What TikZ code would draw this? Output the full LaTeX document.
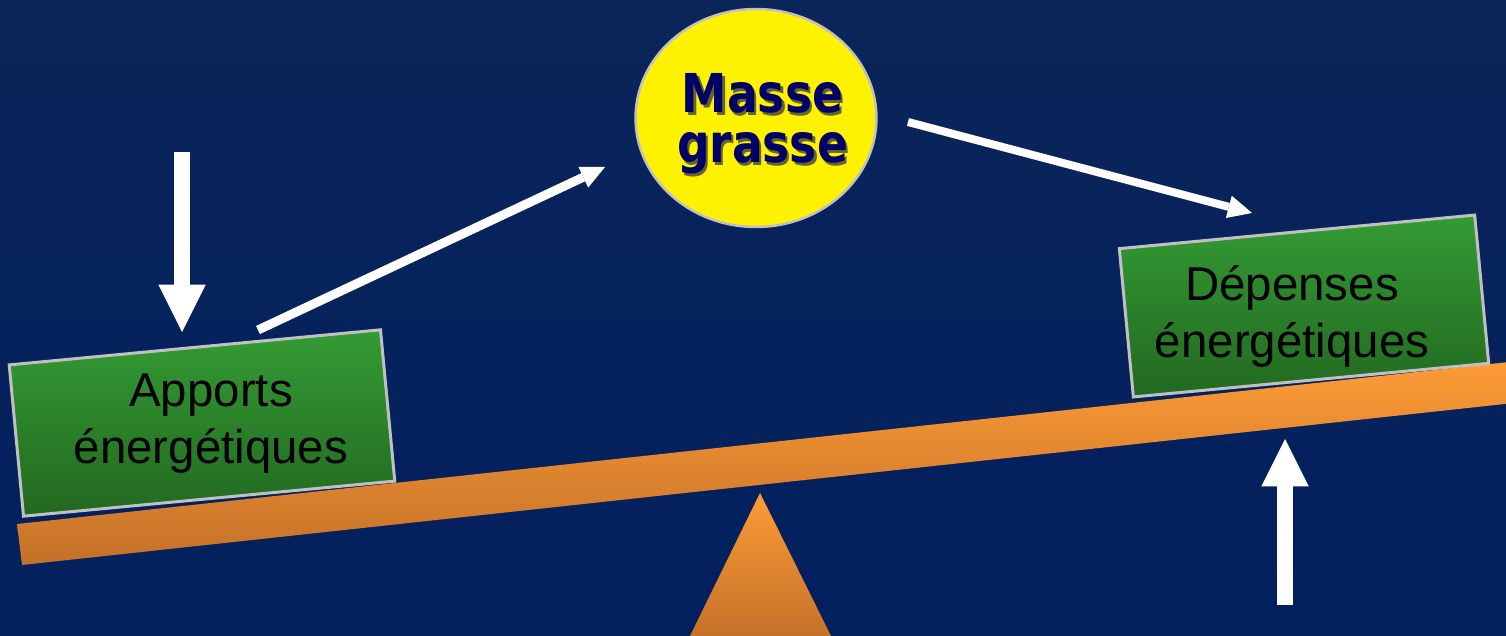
\documentclass[tikz,border=0pt]{standalone}
\usepackage{fontspec}
\setmainfont{Liberation Sans}
\newfontfamily\massefont[FakeStretch=0.85]{DejaVu Sans}
\usetikzlibrary{arrows.meta,shapes.geometric}
\definecolor{bgtop}{RGB}{11,37,89}
\definecolor{bgbot}{RGB}{2,32,94}
\definecolor{ortop}{RGB}{253,155,54}
\definecolor{orbot}{RGB}{195,113,41}
\definecolor{grtop}{RGB}{52,155,52}
\definecolor{grbot}{RGB}{34,104,32}
\definecolor{boxline}{RGB}{192,192,192}
\definecolor{massetext}{RGB}{0,0,102}
\definecolor{masseshadow}{RGB}{100,100,50}
\newcommand{\shadowtext}[1]{\makebox[0pt][l]{\hspace{1.2pt}\raisebox{-1.3pt}{\textcolor{masseshadow}{#1}}}#1}
\begin{document}
\begin{tikzpicture}[x=0.02cm,y=-0.02cm,
  greenbox/.style={draw=boxline, line width=1.7pt, top color=grtop, bottom color=grbot, inner sep=0pt, rotate=5.4},
  lbl/.style={font=\fontsize{27}{32}\selectfont, text=black, inner sep=0pt, anchor=base},
  massestyle/.style={font=\massefont\bfseries\fontsize{30.5}{28.4}\selectfont, text=massetext, inner sep=0pt, align=center},
  bigarrow/.style={draw=white, line width=0.32cm, -{Triangle[length=0.95cm,width=0.95cm,line width=0pt]}},
  thinarrow/.style={draw=white, line width=#1, -{Triangle[length=0.48cm,width=0.46cm,line width=0pt]}}
]
\useasboundingbox (0,0) rectangle (1506,635);
\clip (0,0) rectangle (1506,635);
% background
\shade[top color=bgtop, bottom color=bgbot] (0,0) rectangle (1506,635);
% beam and pivot
\shade[top color=ortop, bottom color=orbot] (17,524) -- (1520,360.8) -- (1520,402.3) -- (22,565) -- cycle;
\shade[top color=ortop, bottom color=orbot] (760,493) -- (833,640) -- (688,640) -- cycle;
% boxes
\node[greenbox, minimum width=7.46cm, minimum height=3.04cm] (apports) at (202,423) {};
\node[greenbox, minimum width=7.14cm, minimum height=2.98cm] (depenses) at (1304,306) {};
\node[lbl] (apT1) at (211,406) {Apports};
\node[lbl] (apT2) at (211,463) {énergétiques};
\node[lbl] (deT1) at (1292,300) {Dépenses};
\node[lbl] (deT2) at (1292,357) {énergétiques};
% ellipse
\node[ellipse, draw=boxline, line width=1.4pt, fill=yellow, minimum width=4.82cm, minimum height=4.36cm, inner sep=0pt] (masse) at (756,118) {};
\node[massestyle] (mT) at (762.5,125.2) {\shadowtext{Masse}\\\shadowtext{grasse}};
% arrows
\coordinate (dnS) at (182,152);
\coordinate (dnE) at (182,332);
\coordinate (upS) at (1285,605);
\coordinate (upE) at (1285,439);
\coordinate (a1S) at (258,330);
\coordinate (a1E) at (605,167);
\coordinate (a2S) at (908,122);
\coordinate (a2E) at (1252,213);
\draw[bigarrow] (dnS) -- (dnE);
\draw[bigarrow] (upS) -- (upE);
\draw[thinarrow=0.18cm] (a1S) -- (a1E);
\draw[thinarrow=0.16cm] (a2S) -- (a2E);
\end{tikzpicture}
\end{document}
